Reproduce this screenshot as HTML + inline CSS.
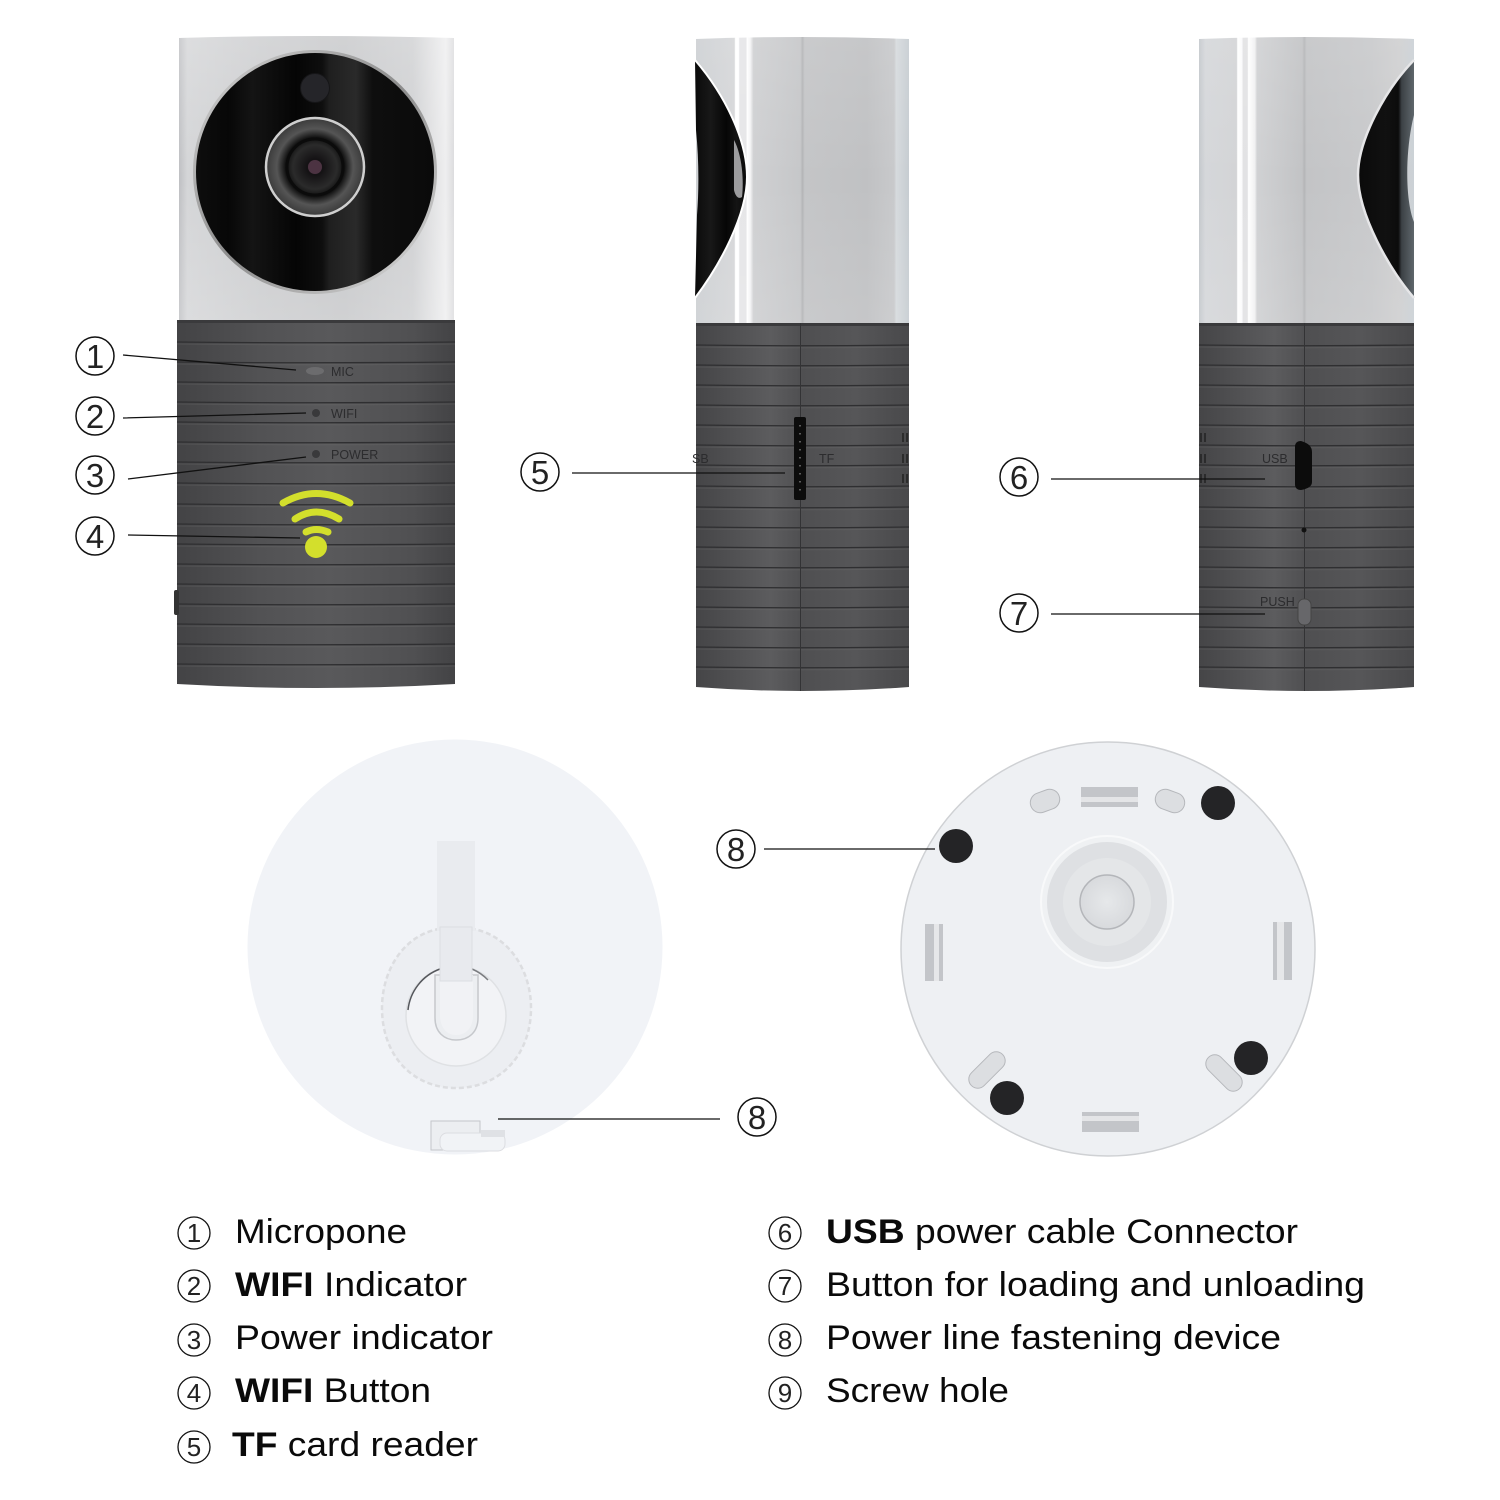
<!DOCTYPE html>
<html><head><meta charset="utf-8"><style>
html,body{margin:0;padding:0;background:#fff}
svg{display:block}
text{font-family:"Liberation Sans",sans-serif}
.c{fill:none;stroke:#111;stroke-width:1.5}
.n{font-size:33px;fill:#222;text-anchor:middle}
.sc{fill:none;stroke:#111;stroke-width:1.3}
.sn{font-size:26px;fill:#222;text-anchor:middle}
.t{font-size:34px;fill:#0a0a0a}
.t tspan.b{font-weight:700}
.l{stroke:#111;stroke-width:1.3;fill:none}
.m{fill:#2c2c2e;font-size:12.500px}
</style></head><body>
<svg width="1500" height="1500" viewBox="0 0 1500 1500" xmlns="http://www.w3.org/2000/svg">
<defs>
<linearGradient id="b1" x1="0" x2="1" y1="0" y2="0"><stop offset="0" stop-color="#434345"/><stop offset=".3" stop-color="#525254"/><stop offset=".55" stop-color="#59595b"/><stop offset=".85" stop-color="#505052"/><stop offset="1" stop-color="#434345"/></linearGradient>
<linearGradient id="b2" x1="0" x2="1" y1="0" y2="0"><stop offset="0" stop-color="#454547"/><stop offset=".35" stop-color="#5c5c5e"/><stop offset=".5" stop-color="#4f4f51"/><stop offset=".75" stop-color="#565658"/><stop offset="1" stop-color="#49494b"/></linearGradient>
<linearGradient id="s1" x1="0" x2="1" y1="0" y2="0"><stop offset="0" stop-color="#bfc0c3"/><stop offset=".03" stop-color="#d4d5d7"/><stop offset=".3" stop-color="#cbccce"/><stop offset=".6" stop-color="#c6c7c9"/><stop offset=".85" stop-color="#cfd0d2"/><stop offset=".97" stop-color="#eeeeef"/><stop offset="1" stop-color="#dcdcde"/></linearGradient>
<linearGradient id="s2" x1="0" x2="1" y1="0" y2="0"><stop offset="0" stop-color="#cdd0d3"/><stop offset=".18" stop-color="#d6d7d9"/><stop offset=".185" stop-color="#ffffff"/><stop offset=".2" stop-color="#ffffff"/><stop offset=".205" stop-color="#e6e6e8"/><stop offset=".235" stop-color="#e6e6e8"/><stop offset=".24" stop-color="#ffffff"/><stop offset=".255" stop-color="#f4f4f5"/><stop offset=".27" stop-color="#cfd0d2"/><stop offset=".49" stop-color="#c6c7c9"/><stop offset=".5" stop-color="#b3b4b6"/><stop offset=".51" stop-color="#c4c5c7"/><stop offset=".8" stop-color="#c0c1c3"/><stop offset=".93" stop-color="#c8c9cb"/><stop offset=".94" stop-color="#d6dadd"/><stop offset="1" stop-color="#c6ccd1"/></linearGradient>
<linearGradient id="s3" x1="0" x2="1" y1="0" y2="0"><stop offset="0" stop-color="#c4c8cc"/><stop offset=".03" stop-color="#d5d7da"/><stop offset=".175" stop-color="#d3d4d6"/><stop offset=".18" stop-color="#ffffff"/><stop offset=".2" stop-color="#fafafb"/><stop offset=".205" stop-color="#e2e2e4"/><stop offset=".225" stop-color="#e2e2e4"/><stop offset=".23" stop-color="#ffffff"/><stop offset=".26" stop-color="#f0f0f1"/><stop offset=".27" stop-color="#d0d1d3"/><stop offset=".48" stop-color="#c2c3c5"/><stop offset=".49" stop-color="#b4b5b7"/><stop offset=".5" stop-color="#c3c4c6"/><stop offset=".8" stop-color="#c8c9cb"/><stop offset=".93" stop-color="#cfcfd0"/><stop offset="1" stop-color="#cbd1d6"/></linearGradient>
<linearGradient id="v" x1="0" x2="0" y1="0" y2="1"><stop offset="0" stop-color="#fff" stop-opacity=".2"/><stop offset=".5" stop-color="#fff" stop-opacity="0"/><stop offset="1" stop-color="#fff" stop-opacity=".18"/></linearGradient>
<linearGradient id="blk" x1="0" x2="1" y1="0" y2="0"><stop offset="0" stop-color="#0e0e0e"/><stop offset=".14" stop-color="#070707"/><stop offset=".24" stop-color="#141414"/><stop offset=".42" stop-color="#050505"/><stop offset=".53" stop-color="#0e0e0e"/><stop offset=".56" stop-color="#1f1f1f"/><stop offset=".67" stop-color="#2a2a2a"/><stop offset=".74" stop-color="#0e0e0e"/><stop offset="1" stop-color="#0a0a0a"/></linearGradient>
<linearGradient id="ring" x1="0" x2="1" y1="0" y2="1"><stop offset="0" stop-color="#d5d5d5"/><stop offset=".5" stop-color="#8c8c8c"/><stop offset="1" stop-color="#dedede"/></linearGradient>
<linearGradient id="sb" x1="0" x2="1" y1="0" y2="0"><stop offset="0" stop-color="#0a0a0a"/><stop offset=".3" stop-color="#181818"/><stop offset=".6" stop-color="#060606"/><stop offset=".8" stop-color="#141414"/><stop offset="1" stop-color="#0a0a0a"/></linearGradient>
<linearGradient id="sb3" x1="0" x2="1" y1="0" y2="0"><stop offset="0" stop-color="#0a0a0a"/><stop offset=".5" stop-color="#111"/><stop offset=".72" stop-color="#0c0c0c"/><stop offset=".78" stop-color="#3c4145"/><stop offset="1" stop-color="#5f676c"/></linearGradient>
<radialGradient id="lens"><stop offset="0" stop-color="#3a2b33"/><stop offset=".16" stop-color="#141214"/><stop offset=".45" stop-color="#2b2b2b"/><stop offset=".6" stop-color="#101010"/><stop offset=".78" stop-color="#555"/><stop offset="1" stop-color="#3a3a3a"/></radialGradient>
<radialGradient id="hub"><stop offset="0" stop-color="#e6e8ea"/><stop offset="1" stop-color="#d8dadd"/></radialGradient>
<g id="ribs" fill="none">
<path stroke="#2f2f31" stroke-width="1.300" d="M0 22q50 1.5 100 0M0 42q50 1.5 100 0M0 62q50 1.5 100 0M0 82q50 1.5 100 0M0 102q50 1.5 100 0M0 122q50 1.5 100 0M0 142q50 1.5 100 0M0 163q50 1.5 100 0M0 184q50 1.5 100 0M0 204q50 1.5 100 0M0 224q50 1.5 100 0M0 244q50 1.5 100 0M0 264q50 1.5 100 0M0 284q50 1.5 100 0M0 304q50 1.5 100 0M0 324q50 1.5 100 0M0 344q50 1.5 100 0"/>
<path stroke="#6c6c6e" stroke-opacity=".35" stroke-width="1" d="M0 24q50 1.5 100 0M0 44q50 1.5 100 0M0 64q50 1.5 100 0M0 84q50 1.5 100 0M0 104q50 1.5 100 0M0 124q50 1.5 100 0M0 144q50 1.5 100 0M0 165q50 1.5 100 0M0 186q50 1.5 100 0M0 206q50 1.5 100 0M0 226q50 1.5 100 0M0 246q50 1.5 100 0M0 266q50 1.5 100 0M0 286q50 1.5 100 0M0 306q50 1.5 100 0M0 326q50 1.5 100 0M0 346q50 1.5 100 0"/>
</g>
</defs>
<rect width="1500" height="1500" fill="#fff"/>

<!-- Camera 1 -->
<path d="M179 38Q316 34 454 38V321H179Z" fill="url(#s1)"/>
<path d="M179 38Q316 34 454 38V321H179Z" fill="url(#v)"/>
<path d="M177 320H455V684Q316 692 177 684Z" fill="url(#b1)"/>
<use href="#ribs" transform="translate(177,320) scale(2.78,1)"/>
<rect x="177" y="320" width="278" height="3" fill="#3a3a3c"/>
<rect x="174" y="590" width="5" height="25" rx="2" fill="#333"/>
<circle cx="315" cy="172" r="120.500" fill="url(#blk)" stroke="url(#ring)" stroke-width="3"/>
<circle cx="315" cy="88" r="14.500" fill="#252529" stroke="#161618"/>
<circle cx="315" cy="167" r="49" fill="url(#lens)" stroke="#cfcfcf" stroke-width="2.500"/>
<circle cx="315" cy="167" r="28" fill="none" stroke="#0b0b0b" stroke-width="3"/>
<circle cx="315" cy="167" r="7" fill="#4c3342"/>
<ellipse cx="315" cy="371" rx="9" ry="4" fill="#6c6c6e"/>
<circle cx="316" cy="413" r="4" fill="#39393b"/>
<circle cx="316" cy="454" r="4" fill="#39393b"/>
<text class="m" x="331" y="376">MIC</text>
<text class="m" x="331" y="418">WIFI</text>
<text class="m" x="331" y="459">POWER</text>
<g fill="none" stroke="#d3df2c" stroke-linecap="round">
<path d="M283 503Q316 484 350 503" stroke-width="7"/>
<path d="M295 519Q316 505 339 519" stroke-width="7"/>
<path d="M306 532Q316 527 328 532" stroke-width="7"/>
</g>
<circle cx="316" cy="547" r="11" fill="#d3df2c"/>

<!-- Camera 2 -->
<path d="M696 39Q802 35 909 39V323H696Z" fill="url(#s2)"/>
<path d="M696 39Q802 35 909 39V323H696Z" fill="url(#v)" opacity=".5"/>
<path d="M695 60C725 95 747 140 747 177C747 215 720 265 695 298L697 215C699 190 699 160 696 130Z" fill="url(#sb)"/>
<path d="M695 60C725 95 747 140 747 177C747 215 720 265 695 298" fill="none" stroke="#fff" stroke-width="2"/>
<path d="M734 140C742 155 744 180 742 197C738 200 735 195 734 190Z" fill="#9c9c9e"/>
<path d="M696 323H909V687Q802 695 696 687Z" fill="url(#b2)"/>
<use href="#ribs" transform="translate(696,323) scale(2.13,1)"/>
<rect x="696" y="323" width="213" height="3" fill="#3a3a3c"/>
<rect x="800" y="323" width="1" height="368" fill="#333335"/>
<rect x="794" y="417" width="12" height="83" rx="2" fill="#0c0c0c"/>
<path d="M800 425v68" stroke="#777" stroke-width="1.500" stroke-dasharray="1.500 6.500"/>
<text class="m" x="819" y="463">TF</text>
<text class="m" x="692" y="463">SB</text>
<path d="M903 433v9M907 433v9M903 454v9M907 454v9M903 474v9M907 474v9" stroke="#222" stroke-width="1.500"/>

<!-- Camera 3 -->
<path d="M1199 39Q1306 35 1414 39V323H1199Z" fill="url(#s3)"/>
<path d="M1199 39Q1306 35 1414 39V323H1199Z" fill="url(#v)" opacity=".5"/>
<path d="M1414 60C1385 90 1358 140 1358 175C1358 215 1390 270 1414 298V222C1405 200 1405 150 1414 115Z" fill="url(#sb3)"/>
<path d="M1414 60C1385 90 1358 140 1358 175C1358 215 1390 270 1414 298" fill="none" stroke="#e6e6e8" stroke-width="2.500"/>
<path d="M1199 323H1414V687Q1306 695 1199 687Z" fill="url(#b2)"/>
<use href="#ribs" transform="translate(1199,323) scale(2.15,1)"/>
<rect x="1199" y="323" width="215" height="3" fill="#3a3a3c"/>
<rect x="1304" y="323" width="1" height="368" fill="#333335"/>
<path d="M1295 447Q1295 441 1301 441Q1312 444 1312 452V482Q1312 488 1301 490Q1295 490 1295 484Z" fill="#0c0c0c"/>
<text class="m" x="1262" y="463">USB</text>
<circle cx="1304" cy="530" r="2.500" fill="#111"/>
<text class="m" x="1260" y="606">PUSH</text>
<rect x="1298" y="599" width="13" height="26" rx="6" fill="#67676a" stroke="#444"/>
<path d="M1201 433v9M1205 433v9M1201 454v9M1205 454v9M1201 474v9M1205 474v9" stroke="#222" stroke-width="1.500"/>

<!-- Disc left -->
<circle cx="455" cy="947" r="207.500" fill="#f1f3f7"/>
<path d="M456 928C410 925 382 965 382 1008C382 1055 412 1088 456 1088C500 1088 531 1055 531 1008C531 965 502 925 456 928Z" fill="#eceef2" stroke="#dcdde0" stroke-width="2.500" stroke-dasharray="5 3"/>
<circle cx="456" cy="1016" r="50" fill="#f2f3f6" stroke="#dfe1e4" stroke-width="1.500"/>
<path d="M408 1010A49 49 0 0 1 440 969" fill="none" stroke="#55575c" stroke-width="1.500"/>
<path d="M472 969A49 49 0 0 1 488 980" fill="none" stroke="#7a7c80" stroke-width="1.500"/>
<path d="M435 975V1018C435 1032 444 1040 456 1040C469 1040 478 1032 478 1018V975Z" fill="#eceef1" stroke="#c6c8cc" stroke-width="1.500"/>
<path d="M440 975V1015C440 1028 447 1035 456 1035C466 1035 473 1028 473 1015V975Z" fill="#f1f2f5"/>
<rect x="437" y="841" width="38" height="90" fill="#e9ebef"/>
<rect x="440" y="927" width="32" height="54" fill="#e8eaee" stroke="#dcdee2"/>
<rect x="431" y="1121" width="49" height="29" fill="#eceef1" stroke="#c4c6ca"/>
<rect x="440" y="1133" width="65" height="18" rx="7" fill="#f1f3f6" stroke="#dcdde1"/>
<path d="M481 1130H505V1137H481Z" fill="#dfe1e5"/>

<!-- Disc right -->
<circle cx="1108" cy="949" r="207" fill="#eef0f3" stroke="#cfd1d4" stroke-width="1.500"/>
<circle cx="1107" cy="902" r="66" fill="#eff1f3" stroke="#f8f9fa" stroke-width="2"/>
<circle cx="1107" cy="902" r="60" fill="#dee0e3"/>
<circle cx="1107" cy="902" r="44" fill="#e4e6e8"/>
<circle cx="1107" cy="902" r="27" fill="url(#hub)" stroke="#b4b6ba" stroke-width="1.500"/>
<g fill="#c3c5c9">
<rect x="1081" y="787" width="57" height="20" fill="#e4e5e7"/><rect x="1081" y="787" width="57" height="10"/><rect x="1081" y="802" width="57" height="5"/>
<rect x="1082" y="1112" width="57" height="20" fill="#e4e5e7"/><rect x="1082" y="1112" width="57" height="4"/><rect x="1082" y="1121" width="57" height="11"/>
<rect x="925" y="924" width="18" height="57" fill="#e6e7e9"/><rect x="925" y="924" width="9" height="57"/><rect x="939" y="924" width="4" height="57"/>
<rect x="1273" y="922" width="19" height="58" fill="#e6e7e9"/><rect x="1273" y="922" width="4" height="58"/><rect x="1284" y="922" width="8" height="58"/>
<g fill="#dcdee1" stroke="#b5b7bb" stroke-width="1">
<rect x="1030" y="791" width="30" height="20" rx="10" transform="rotate(-20 1045 801)"/>
<rect x="1155" y="791" width="30" height="20" rx="10" transform="rotate(20 1170 801)"/>
<rect x="965" y="1061" width="44" height="18" rx="9" transform="rotate(-45 987 1070)"/>
<rect x="1202" y="1064" width="44" height="18" rx="9" transform="rotate(45 1224 1073)"/>
</g></g>
<g fill="#242426">
<circle cx="1218" cy="803" r="17"/><circle cx="956" cy="846" r="17"/><circle cx="1251" cy="1058" r="17"/><circle cx="1007" cy="1098" r="17"/>
</g>

<!-- Leader lines -->
<path class="l" d="M123 355L296 370M123 418L306 413M128 479L306 457M128 535L300 538M572 473H785M1051 479H1265M1051 614H1265M764 849H935M498 1119H720"/>

<!-- Big callouts -->
<g>
<circle class="c" cx="95" cy="356" r="19"/><text class="n" x="95" y="368">1</text>
<circle class="c" cx="95" cy="416" r="19"/><text class="n" x="95" y="428">2</text>
<circle class="c" cx="95" cy="475" r="19"/><text class="n" x="95" y="487">3</text>
<circle class="c" cx="95" cy="536" r="19"/><text class="n" x="95" y="548">4</text>
<circle class="c" cx="540" cy="472" r="19"/><text class="n" x="540" y="484">5</text>
<circle class="c" cx="1019" cy="477" r="19"/><text class="n" x="1019" y="489">6</text>
<circle class="c" cx="1019" cy="613" r="19"/><text class="n" x="1019" y="625">7</text>
<circle class="c" cx="736" cy="849" r="19"/><text class="n" x="736" y="861">8</text>
<circle class="c" cx="757" cy="1117" r="19"/><text class="n" x="757" y="1129">8</text>
</g>

<!-- Legend -->
<g>
<circle class="sc" cx="194" cy="1233" r="16"/><text class="sn" x="194" y="1242">1</text>
<circle class="sc" cx="194" cy="1286" r="16"/><text class="sn" x="194" y="1295">2</text>
<circle class="sc" cx="194" cy="1340" r="16"/><text class="sn" x="194" y="1349">3</text>
<circle class="sc" cx="194" cy="1393" r="16"/><text class="sn" x="194" y="1402">4</text>
<circle class="sc" cx="194" cy="1447" r="16"/><text class="sn" x="194" y="1456">5</text>
<circle class="sc" cx="785" cy="1233" r="16"/><text class="sn" x="785" y="1242">6</text>
<circle class="sc" cx="785" cy="1286" r="16"/><text class="sn" x="785" y="1295">7</text>
<circle class="sc" cx="785" cy="1340" r="16"/><text class="sn" x="785" y="1349">8</text>
<circle class="sc" cx="785" cy="1393" r="16"/><text class="sn" x="785" y="1402">9</text>
</g>
<text class="t" x="235" y="1243" textLength="172" lengthAdjust="spacingAndGlyphs">Micropone</text>
<text class="t" x="235" y="1296" textLength="232" lengthAdjust="spacingAndGlyphs"><tspan class="b">WIFI</tspan> Indicator</text>
<text class="t" x="235" y="1349" textLength="258" lengthAdjust="spacingAndGlyphs">Power indicator</text>
<text class="t" x="235" y="1402" textLength="196" lengthAdjust="spacingAndGlyphs"><tspan class="b">WIFI</tspan> Button</text>
<text class="t" x="232" y="1456" textLength="246" lengthAdjust="spacingAndGlyphs"><tspan class="b">TF</tspan> card reader</text>
<text class="t" x="826" y="1243" textLength="472" lengthAdjust="spacingAndGlyphs"><tspan class="b">USB</tspan> power cable Connector</text>
<text class="t" x="826" y="1296" textLength="539" lengthAdjust="spacingAndGlyphs">Button for loading and unloading</text>
<text class="t" x="826" y="1349" textLength="455" lengthAdjust="spacingAndGlyphs">Power line fastening device</text>
<text class="t" x="826" y="1402" textLength="183" lengthAdjust="spacingAndGlyphs">Screw hole</text>
</svg>
</body></html>
